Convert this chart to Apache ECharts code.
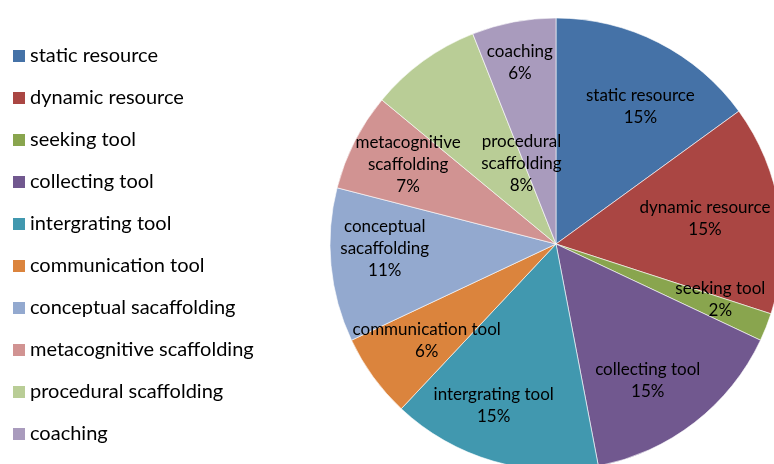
<!DOCTYPE html>
<html>
<head>
<meta charset="utf-8">
<script src="https://cdn.jsdelivr.net/npm/echarts@6/dist/echarts.min.js"></script>
<style>
  html, body { margin: 0; padding: 0; background: #fff; }
  #main { width: 774px; height: 464px; }
</style>
</head>
<body>
<div id="main"></div>
<script>
// categories and shares (percent), clockwise from 12 o'clock
var categories = ['static resource', 'dynamic resource', 'seeking tool', 'collecting tool',
  'intergrating tool', 'communication tool', 'conceptual sacaffolding',
  'metacognitive scaffolding', 'procedural scaffolding', 'coaching'];
var shares = [15, 15, 2, 15, 15, 6, 11, 7, 8, 6];
// text as it is wrapped inside the slices
var sliceNames = ['static resource', 'dynamic resource', 'seeking tool', 'collecting tool',
  'intergrating tool', 'communication tool', 'conceptual\nsacaffolding',
  'metacognitive\nscaffolding', 'procedural\nscaffolding', 'coaching'];
var colors = ['#4572A7', '#AA4643', '#89A54E', '#71588F', '#4198AF',
  '#DB843D', '#93A9CF', '#D19392', '#B9CD96', '#A99BBD'];

var font = 'Lato, "Open Sans", sans-serif';

function pieData(){
    let d = [];
    for (let i = 0; i < categories.length; i++) {
        d.push({ name: categories[i], value: shares[i] });
    }
    return d;
}

// nudges (px) from the common label ring, per slice, to mimic excel's best fit
var labelNudge = [[9, 10], [-15, 0], [10, -6], [-10, 5], [-16, 2],
                  [5, -1], [-6, -11], [0, -4], [63, 54], [-5, -18]];

let chart = echarts.init(document.getElementById('main'));
let option = {
    animation: false,
    color: colors,
    legend: {
        orient: 'vertical',
        left: 8,
        top: 41,
        icon: 'rect',
        itemWidth: 12,
        itemHeight: 12,
        itemGap: 22,
        selectedMode: false,
        data: categories,
        itemStyle: { borderWidth: 0 },
        textStyle: { fontFamily: font, fontSize: 20, color: '#000', lineHeight: 20 }
    },
    series: [
        {
            type: 'pie',
            center: [556, 244],
            radius: 226,
            startAngle: 90,
            clockwise: true,
            silent: true,
            label: { show: false },
            labelLine: { show: false },
            itemStyle: { borderColor: '#fff', borderWidth: 0.6 },
            data: pieData()
        },
        {
            // transparent ring only used to place the slice labels
            type: 'pie',
            center: [556, 244],
            radius: [100, 226],
            startAngle: 90,
            clockwise: true,
            silent: true,
            itemStyle: { color: 'rgba(0,0,0,0)' },
            labelLine: { show: false },
            label: {
                show: true,
                position: 'inside',
                color: '#000',
                fontFamily: font,
                fontSize: 17,
                lineHeight: 22,
                formatter: function (p) {
                    return sliceNames[p.dataIndex] + '\n' + Math.round(p.percent) + '%';
                }
            },
            labelLayout: function (p) {
                let n = labelNudge[p.dataIndex];
                return { dx: n[0], dy: n[1] };
            },
            data: pieData()
        }
    ]
};
chart.setOption(option);
</script>
</body>
</html>
